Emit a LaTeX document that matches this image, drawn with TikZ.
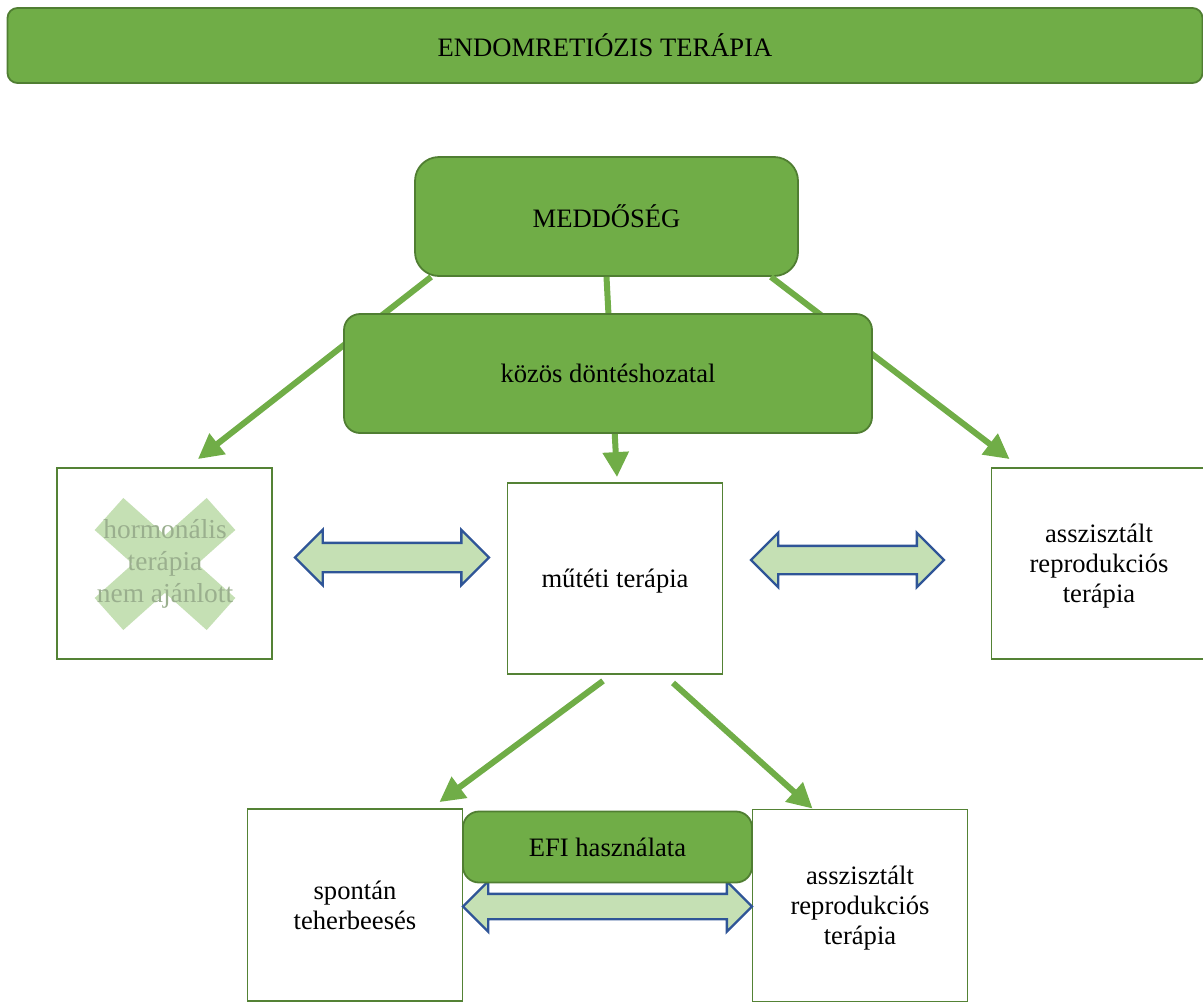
\documentclass[tikz,border=0pt]{standalone}
\usepackage{fontspec}
\setmainfont{Liberation Serif}
\usetikzlibrary{shapes.arrows,arrows.meta}

\definecolor{leafgreen}{HTML}{70AD47}
\definecolor{leafdark}{HTML}{507E32}
\definecolor{boxline}{HTML}{548235}
\definecolor{palegreen}{HTML}{C5E0B4}
\definecolor{arrowblue}{HTML}{2F5597}
\definecolor{fadedtext}{HTML}{9AAF8E}

\begin{document}
\begin{tikzpicture}[x=0.5pt,y=-0.5pt,
		every node/.style={font=\fontsize{13.3}{15}\selectfont,align=center,inner sep=0pt},
		pill/.style={draw=leafdark,fill=leafgreen,line width=0.9pt},
		plain/.style={draw=boxline,fill=white,line width=0.9pt,minimum width=107.5pt,minimum height=95.5pt,text depth=0pt},
		swap/.style={double arrow,draw=arrowblue,fill=palegreen,line width=1.2pt,inner xsep=0pt,minimum width=0pt},
		flow/.style={draw=leafgreen,line width=3pt,-{Triangle[length=12.5pt,width=12.5pt]}}]
				\useasboundingbox (0,0) rectangle (1203,1001);
				\node [pill,minimum width=597.5pt,minimum height=37.5pt,rounded corners=5pt] (title) at (605,45.5) {ENDOMRETIÓZIS TERÁPIA};
				\node [pill,minimum width=191.5pt,minimum height=59.5pt,rounded corners=12pt] (medd) at (606.5,216.5) {MEDDŐSÉG};
				\node [plain] (horm) at (164.5,563.5) {};
				\node [plain] (mut) at (615,578.5) {műtéti terápia};
				\node [plain] (asszR) at (1099,563.5) {asszisztált\\reprodukciós\\terápia};
				\node [plain,minimum height=96pt] (spont) at (355,905) {spontán\\teherbeesés};
				\node [plain,minimum height=96pt] (asszL) at (860,905.5) {asszisztált\\reprodukciós\\terápia};
				% crossed out option
				\draw [palegreen,line width=21.5pt] (109,514) -- (221,614);
				\draw [palegreen,line width=21.5pt] (109,614) -- (221,514);
				\node [text=fadedtext,font=\fontsize{13.7}{16}\selectfont] at (165,564) {hormonális\\terápia\\nem ajánlott};
				\path [flow] ([xshift=8.5pt]medd.south west) -- ([xshift=-37.5pt,yshift=4pt]horm.north east);
				\path [flow] (medd.south) -- ([xshift=1pt,yshift=2.5pt]mut.north);
				\path [flow] ([xshift=-14pt]medd.south east) -- ([xshift=9.5pt,yshift=4pt]asszR.north west);
				\node [pill,minimum width=264pt,minimum height=59.5pt,rounded corners=8pt] (kozos) at (608,373.5) {közös döntéshozatal};
				\node [swap,minimum height=97pt,inner ysep=6.75pt,double arrow head extend=6.5pt] (swapL) at (392,557.5) {};
				\node [swap,minimum height=96.5pt,inner ysep=6.5pt,double arrow head extend=6.5pt] (swapR) at (847.5,560) {};
				\path [flow] ([xshift=-6pt,yshift=-3pt]mut.south) -- ([xshift=-12pt,yshift=3pt]spont.north east);
				\path [flow] ([xshift=29pt,yshift=-4pt]mut.south) -- ([xshift=30.5pt]asszL.north west);
				\node [swap,minimum height=144.5pt,inner ysep=5.75pt,double arrow head extend=6.25pt] (swapB) at (607.5,906.5) {};
				\node [pill,minimum width=144.5pt,minimum height=35.5pt,rounded corners=8pt] (efi) at (607.5,847) {EFI használata};
			\end{tikzpicture}
\end{document}
